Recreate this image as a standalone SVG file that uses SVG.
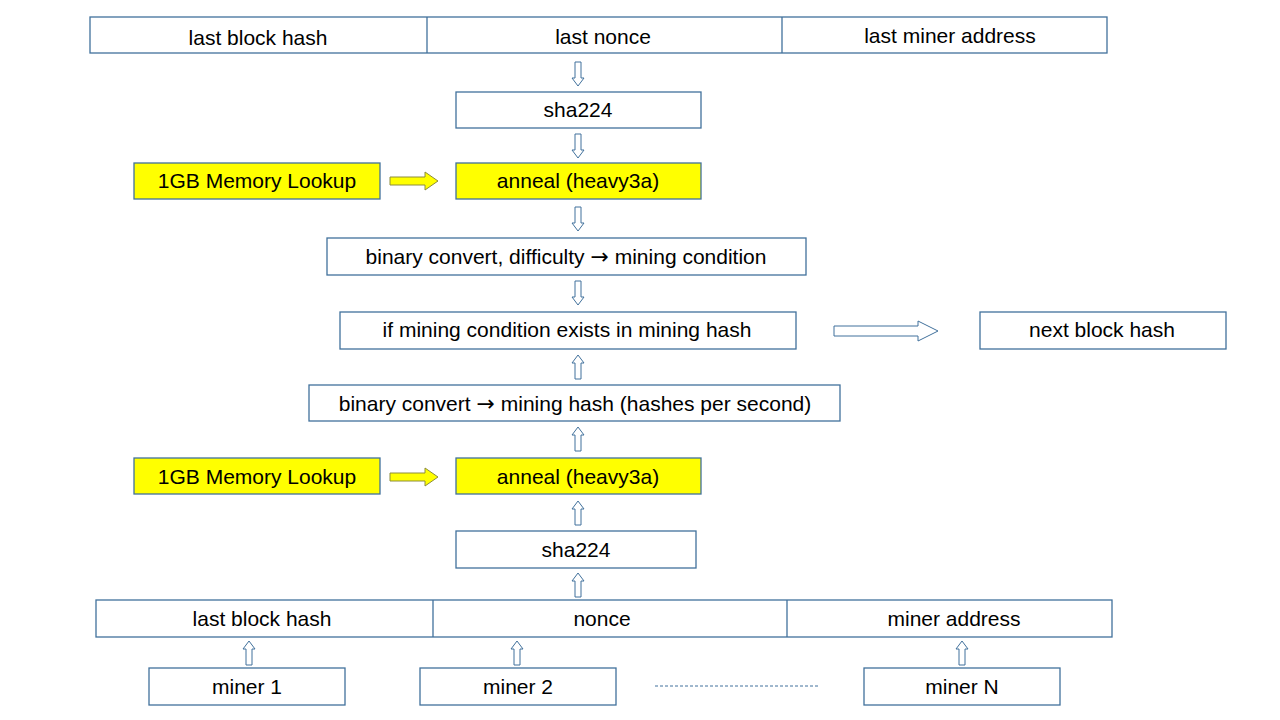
<svg xmlns="http://www.w3.org/2000/svg" width="1280" height="720" viewBox="0 0 1280 720">
<style>
.box{fill:#ffffff;stroke:#41719c;stroke-width:1.3}
.ybox{fill:#ffff00;stroke:#41719c;stroke-width:1.3}
.div{stroke:#41719c;stroke-width:1.3}
.t{font-family:"Liberation Sans",Arial,sans-serif;font-size:21px;fill:#000;text-anchor:middle}
.ar{font-family:"DejaVu Sans",sans-serif;font-size:22px}
.harr{fill:#ffffff;stroke:#41719c;stroke-width:1}
.yarr{fill:#ffff00;stroke:#8c8c3c;stroke-width:1}
</style>
<defs>
<polygon id="dn" points="-3,0 3,0 3,16 6,16 0,24 -6,16 -3,16"/>
<polygon id="up" points="-3,24 3,24 3,8 6,8 0,0 -6,8 -3,8"/>
<polygon id="yr" points="0,-4 35,-4 35,-9 48,0 35,9 35,4 0,4"/>
</defs>
<rect width="1280" height="720" fill="#ffffff"/>

<g id="top-row">
<rect class="box" x="90" y="17" width="1017" height="36"/>
<line class="div" x1="427" y1="17" x2="427" y2="53"/>
<line class="div" x1="782" y1="17" x2="782" y2="53"/>
<text class="t" x="258" y="45">last block hash</text>
<text class="t" x="603" y="44">last nonce</text>
<text class="t" x="950" y="43">last miner address</text>
</g>
<g id="sha224-top"><rect class="box" x="456" y="92" width="245" height="36"/><text class="t" x="578" y="117">sha224</text></g>
<g id="mem-top"><rect class="ybox" x="134" y="163" width="246" height="36"/><text class="t" x="257" y="188">1GB Memory Lookup</text></g>
<g id="anneal-top"><rect class="ybox" x="456" y="163" width="245" height="36"/><text class="t" x="578" y="188">anneal (heavy3a)</text></g>
<g id="binary-cond"><rect class="box" x="327" y="238" width="479" height="37"/><text class="t" x="566" y="264">binary convert, difficulty <tspan class="ar">→</tspan> mining condition</text></g>
<g id="if-cond"><rect class="box" x="340" y="312" width="456" height="37"/><text class="t" x="567" y="337">if mining condition exists in mining hash</text></g>
<g id="next-hash"><rect class="box" x="980" y="312" width="246" height="37"/><text class="t" x="1102" y="337">next block hash</text></g>
<g id="binary-hash"><rect class="box" x="309" y="385" width="531" height="36"/><text class="t" x="575" y="411">binary convert <tspan class="ar">→</tspan> mining hash (hashes per second)</text></g>
<g id="mem-bot"><rect class="ybox" x="134" y="458" width="246" height="36"/><text class="t" x="257" y="484">1GB Memory Lookup</text></g>
<g id="anneal-bot"><rect class="ybox" x="456" y="458" width="245" height="36"/><text class="t" x="578" y="484">anneal (heavy3a)</text></g>
<g id="sha224-bot"><rect class="box" x="456" y="531" width="240" height="37"/><text class="t" x="576" y="557">sha224</text></g>
<g id="bottom-row">
<rect class="box" x="96" y="600" width="1016" height="37"/>
<line class="div" x1="433" y1="600" x2="433" y2="637"/>
<line class="div" x1="787" y1="600" x2="787" y2="637"/>
<text class="t" x="262" y="626">last block hash</text>
<text class="t" x="602" y="626">nonce</text>
<text class="t" x="954" y="626">miner address</text>
</g>
<g id="miner1"><rect class="box" x="149" y="668" width="196" height="37"/><text class="t" x="247" y="694">miner 1</text></g>
<g id="miner2"><rect class="box" x="420" y="668" width="196" height="37"/><text class="t" x="518" y="694">miner 2</text></g>
<g id="minerN"><rect class="box" x="864" y="668" width="196" height="37"/><text class="t" x="962" y="694">miner N</text></g>

<g id="connectors">
<use href="#dn" class="harr" x="578" y="62"/>
<use href="#dn" class="harr" x="578" y="134"/>
<use href="#dn" class="harr" x="578" y="207"/>
<use href="#dn" class="harr" x="578" y="281"/>
<use href="#up" class="harr" x="578" y="355"/>
<use href="#up" class="harr" x="578" y="427"/>
<use href="#up" class="harr" x="578" y="501"/>
<use href="#up" class="harr" x="578" y="573"/>
<use href="#up" class="harr" x="249" y="641"/>
<use href="#up" class="harr" x="517" y="641"/>
<use href="#up" class="harr" x="962" y="641"/>
<use href="#yr" class="yarr" x="390" y="181"/>
<use href="#yr" class="yarr" x="390" y="477"/>
<polygon class="harr" points="834,326 918,326 918,321 938,331 918,341 918,336 834,336"/>
<line x1="655" y1="686" x2="820" y2="686" stroke="#41719c" stroke-width="1" stroke-dasharray="3,2"/>
</g>
</svg>
